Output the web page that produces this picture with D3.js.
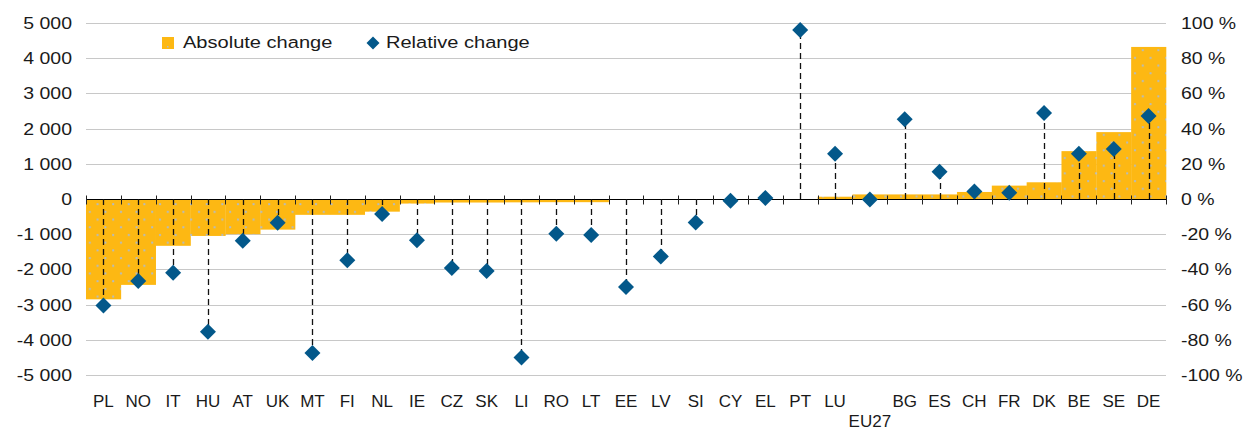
<!DOCTYPE html>
<html>
<head>
<meta charset="utf-8">
<script src="https://cdn.jsdelivr.net/npm/d3@7"></script>
<style>
  html, body { margin: 0; padding: 0; background: #fff; }
  svg { display: block; font-family: "Liberation Sans", Arial, sans-serif; }
</style>
</head>
<body>
<svg id="chart" width="1251" height="431"></svg>
<script>
const categories = ["PL","NO","IT","HU","AT","UK","MT","FI","NL","IE","CZ","SK","LI","RO","LT","EE","LV","SI","CY","EL","PT","LU","EU27","BG","ES","CH","FR","DK","BE","SE","DE"];
const absoluteChange = [-2850,-2440,-1330,-1050,-1000,-870,-450,-450,-360,-130,-100,-100,-95,-90,-90,0,0,0,0,0,0,65,130,130,130,200,380,475,1360,1900,4320];
const relativeChange = [-60.5,-46.6,-41.9,-75.4,-23.7,-13.5,-87.5,-34.8,-8.5,-23.5,-39.2,-40.9,-90,-19.7,-20.5,-50,-32.6,-13.3,-1,0.6,96,25.7,-0.3,45.3,15.5,4.2,3.6,48.9,25.7,28.4,47.2];
const leftTicks = [-5000,-4000,-3000,-2000,-1000,0,1000,2000,3000,4000,5000];
const rightTicks = [-100,-80,-60,-40,-20,0,20,40,60,80,100];
const legendLabels = ["Absolute change","Relative change"];

(function () {
const barColor = "#FDB813";
const diamondColor = "#03588A";
const textColor = "#1a1a1a";
const sx = 1.18;

const svg = d3.select("#chart");
const pLeft = 86, pRight = 1166, pTop = 23, pBottom = 375;

const x = d3.scaleBand().domain(categories).range([pLeft, pRight]).padding(0);
const yL = d3.scaleLinear().domain([-5000, 5000]).range([pBottom, pTop]);
const yR = d3.scaleLinear().domain([-100, 100]).range([pBottom, pTop]);

// pattern for bars
const defs = svg.append("defs");
const pat = defs.append("pattern").attr("id", "dots").attr("patternUnits", "userSpaceOnUse")
  .attr("width", 15.6).attr("height", 15.4);
pat.append("rect").attr("width", 15.6).attr("height", 15.4).attr("fill", barColor);
pat.append("rect").attr("x", 3).attr("y", 3).attr("width", 2).attr("height", 2).attr("fill", "#b3bcc4");
pat.append("rect").attr("x", 10.8).attr("y", 10.7).attr("width", 2).attr("height", 2).attr("fill", "#b3bcc4");

// gridlines
svg.append("g").selectAll("line").data(leftTicks.filter(d => d !== 0)).join("line")
  .attr("x1", pLeft).attr("x2", pRight)
  .attr("y1", d => Math.round(yL(d)) + 0.5).attr("y2", d => Math.round(yL(d)) + 0.5)
  .attr("stroke", "#c8c8c8").attr("stroke-width", 1);

// bars
svg.append("g").selectAll("rect").data(categories).join("rect")
  .attr("x", d => x(d))
  .attr("width", x.bandwidth() + 0.3)
  .attr("y", (d, i) => Math.min(yL(0), yL(absoluteChange[i])))
  .attr("height", (d, i) => Math.abs(yL(absoluteChange[i]) - yL(0)))
  .attr("fill", "url(#dots)");

// zero axis + ticks
const y0 = Math.round(yL(0)) + 0.5;
svg.append("line").attr("x1", pLeft).attr("x2", pRight).attr("y1", y0).attr("y2", y0)
  .attr("stroke", "#000").attr("stroke-width", 1);
const boundaries = categories.map(d => x(d)).concat([pRight]);
svg.append("g").selectAll("line").data(boundaries).join("line")
  .attr("x1", d => Math.round(d) + 0.5).attr("x2", d => Math.round(d) + 0.5)
  .attr("y1", y0 - 4).attr("y2", y0 + 5)
  .attr("stroke", "#222").attr("stroke-width", 1);

// drop lines
svg.append("g").selectAll("line").data(categories).join("line")
  .attr("x1", d => Math.round(x(d) + x.bandwidth() / 2) + 0.5)
  .attr("x2", d => Math.round(x(d) + x.bandwidth() / 2) + 0.5)
  .attr("y1", yR(0))
  .attr("y2", (d, i) => yR(relativeChange[i]))
  .attr("stroke", "#111").attr("stroke-width", 1.3).attr("stroke-dasharray", "6,4");

// diamonds
const dsz = 8;
const diamondPath = `M0,${-dsz} L${dsz},0 L0,${dsz} L${-dsz},0 Z`;
svg.append("g").selectAll("path").data(categories).join("path")
  .attr("d", diamondPath)
  .attr("transform", (d, i) => `translate(${x(d) + x.bandwidth() / 2},${yR(relativeChange[i])})`)
  .attr("fill", diamondColor);

// left axis labels
const fmtL = d => d3.format(",")(d).replace(/,/g, " ").replace("−", "-");
svg.append("g").selectAll("text").data(leftTicks).join("text")
  .attr("transform", d => `translate(72,${yL(d) + 6}) scale(${sx},1)`)
  .attr("text-anchor", "end").attr("font-size", 16.5).attr("fill", textColor)
  .text(fmtL);

// right axis labels
svg.append("g").selectAll("text").data(rightTicks).join("text")
  .attr("transform", d => `translate(1181,${yR(d) + 6}) scale(${sx},1)`)
  .attr("text-anchor", "start").attr("font-size", 16.5).attr("fill", textColor)
  .text(d => d + " %");

// category labels
svg.append("g").selectAll("text").data(categories).join("text")
  .attr("x", d => x(d) + x.bandwidth() / 2)
  .attr("y", d => d === "EU27" ? 427 : 406.5)
  .attr("text-anchor", "middle").attr("font-size", 17).attr("fill", textColor)
  .text(d => d);

// legend
const lg = svg.append("g");
lg.append("rect").attr("x", 162).attr("y", 37).attr("width", 12).attr("height", 12).attr("fill", barColor);
lg.append("rect").attr("x", 167).attr("y", 46).attr("width", 1.5).attr("height", 1.5).attr("fill", "#b3bcc4");
lg.append("text").attr("transform", `translate(183,47.5) scale(${sx},1)`).attr("font-size", 17).attr("fill", textColor).text(legendLabels[0]);
lg.append("path").attr("d", "M0,-6.5 L6.5,0 L0,6.5 L-6.5,0 Z").attr("transform", "translate(373,43)").attr("fill", diamondColor);
lg.append("text").attr("transform", `translate(386,47.5) scale(${sx},1)`).attr("font-size", 17).attr("fill", textColor).text(legendLabels[1]);
})();
</script>
</body>
</html>
